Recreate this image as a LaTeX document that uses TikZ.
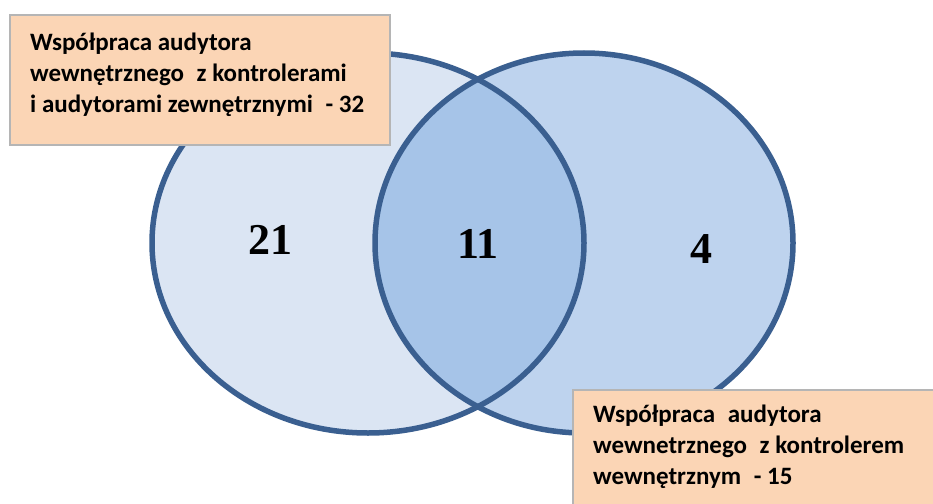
\documentclass[tikz,border=0pt]{standalone}
\usepackage{fontspec}
\setmainfont{Carlito}
\newfontfamily\numfont{Liberation Serif}
\definecolor{setA}{HTML}{DBE5F3}
\definecolor{setB}{HTML}{BED3EE}
\definecolor{setAB}{HTML}{A6C4E8}
\definecolor{ringcol}{HTML}{3A5F90}
\definecolor{notefill}{HTML}{FBD5B5}
\definecolor{noteline}{HTML}{B5B5B5}
\begin{document}
\begin{tikzpicture}[x=1pt,y=-1pt,
  ring/.style={draw=ringcol,line width=5.5pt},
  notebox/.style={draw=noteline,line width=1.5pt,fill=notefill},
  notetext/.style={anchor=north west,inner sep=0pt,align=left,
    font=\fontsize{25}{31}\selectfont\bfseries},
  count/.style={font=\fontsize{44}{44}\selectfont\numfont\bfseries}]
\useasboundingbox (0,0) rectangle (933,503);
% set fills
\fill[setA] (368,243) ellipse [x radius=216pt, y radius=190pt];
\fill[setB] (584,243) ellipse [x radius=209pt, y radius=190pt];
\begin{scope}
  \clip (368,243) ellipse [x radius=216pt, y radius=190pt];
  \fill[setAB] (584,243) ellipse [x radius=209pt, y radius=190pt];
\end{scope}
% outlines
\draw[ring] (368,243) ellipse [x radius=216pt, y radius=190pt];
\draw[ring] (584,243) ellipse [x radius=209pt, y radius=190pt];
% counts
\node[count] (onlyA) at (270,240) {21};
\node[count] (both) at (478,244) {11};
\node[count] (onlyB) at (701,249) {4};
% labels
\draw[notebox] (10,15) rectangle (390,145);
\coordinate (noteA) at (10,15);
\node[notetext] (textA) at (30,33) {Współpraca audytora\\wewnętrznego\hspace{7pt} z kontrolerami\\i audytorami zewnętrznymi\hspace{7pt} - 32};
\draw[notebox] (573,390) rectangle (945,515);
\coordinate (noteB) at (573,390);
\node[notetext] (textB) at (593,405) {Współpraca\hspace{7pt} audytora\\wewnetrznego\hspace{7pt} z kontrolerem\\wewnętrznym\hspace{7pt} - 15};
\end{tikzpicture}
\end{document}
